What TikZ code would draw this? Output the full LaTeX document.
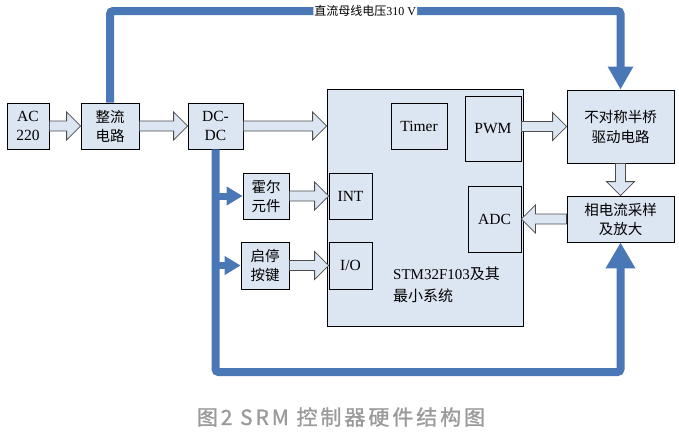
\documentclass[tikz,border=0pt]{standalone}
\usepackage{fontspec}
\setmainfont{Liberation Serif}
\newfontfamily\cjk{Noto Sans CJK SC}
\newfontfamily\capfont[LetterSpace=14,FakeBold=1.2]{Noto Sans CJK SC}
\usetikzlibrary{positioning,calc,arrows.meta}

\definecolor{boxfill}{HTML}{DCE6F2}
\definecolor{busblue}{HTML}{4A77B5}
\definecolor{captiongray}{HTML}{9A9A9A}

% hollow block arrow from #1 to #2
\newcommand{\hollowarrow}[2]{%
	\path (#1) coordinate (ha) (#2) coordinate (hb);
	\path ($(hb)!14pt!(ha)$) coordinate (hh);
	\draw [hollow] ($(ha)!5pt!90:(hb)$) -- ($(hh)!5pt!90:(hb)$) -- ($(hh)!14pt!90:(hb)$) -- (hb)
		-- ($(hh)!14pt!-90:(hb)$) -- ($(hh)!5pt!-90:(hb)$) -- ($(ha)!5pt!-90:(hb)$) -- cycle;%
}

\begin{document}
\begin{tikzpicture}[
			x=1pt, y=-1pt,
			font=\fontsize{15.5}{19}\selectfont,
			box/.style={rectangle, draw=black, fill=boxfill, thick, inner sep=0pt, align=center},
			cjkbox/.style={box, font=\fontsize{14.5}{19}\selectfont\cjk},
			hollow/.style={draw=black!70, fill=boxfill, line width=0.8pt},
			busline/.style={draw=busblue, line width=8pt, rounded corners=3pt},
			tapline/.style={draw=busblue, line width=7pt, -{Triangle[length=16pt,width=18pt]}}
	]
		\useasboundingbox (0,0) rectangle (679,434);

		\node (ac) [box, minimum width=42, minimum height=46] at (28,126) {AC\\220};
		\node (zl) [cjkbox, minimum width=58, minimum height=46] at (110,126) {整流\\电路};
		\node (dc) [box, minimum width=55, minimum height=46] at (215.5,126) {DC-\\DC};

		\node (mcu) [box, minimum width=196, minimum height=237] at (425,207.5) {};
		\node (timer) [box, minimum width=56, minimum height=46] at (419,126) {Timer};
		\node (pwm) [box, minimum width=56, minimum height=65] at (493,128.5) {PWM};
		\node (adc) [box, minimum width=53, minimum height=66] at (494.5,219) {ADC};
		\node (int) [box, minimum width=43, minimum height=46] at (350.5,196) {INT};
		\node (io) [box, minimum width=43, minimum height=47] at (350.5,265.5) {I/O};
		\node (mcutext) [anchor=north west, align=left, inner sep=0pt, font=\fontsize{15}{22}\selectfont] at (393,267) {STM32F103{\cjk 及其}\\{\cjk 最小系统}};

		\node (hall) [cjkbox, minimum width=46, minimum height=46] at (266,196) {霍尔\\元件};
		\node (key) [cjkbox, minimum width=48, minimum height=47] at (265,265.5) {启停\\按键};

		\node (drv) [cjkbox, minimum width=107, minimum height=73, font=\fontsize{14.5}{20}\selectfont\cjk] at (620.5,126.5) {不对称半桥\\驱动电路};
		\node (amp) [cjkbox, minimum width=107, minimum height=46] at (620.5,219) {相电流采样\\及放大};

		\node (caption) [text=captiongray, font=\fontsize{21}{24}\selectfont\capfont] at (341,417) {图2 SRM 控制器硬件结构图};

		% block arrows
		\hollowarrow{ac.east}{zl.west}
		\hollowarrow{zl.east}{dc.west}
		\hollowarrow{dc.east}{mcu.west |- dc.east}
		\hollowarrow{hall.east}{int.west}
		\hollowarrow{key.east}{io.west}
		\hollowarrow{pwm.east |- drv.west}{drv.west}
		\hollowarrow{drv.south}{amp.north}
		\hollowarrow{amp.west}{adc.east |- amp.west}

		% dc bus and low voltage supply
		\coordinate (bustop) at (0,11);
		\coordinate (busbot) at (0,372);
		\draw [busline, -{Triangle[length=23pt,width=24pt]}] (zl.north) -- (zl.north |- bustop)
			-- node[fill=white, inner sep=1pt, font=\fontsize{12}{14}\selectfont] {{\cjk 直流母线电压}310 V} (drv.north |- bustop) -- (drv.north);
		\draw [busline, -{Triangle[length=26pt,width=28pt]}] (dc.south) -- (dc.south |- busbot)
			-- (amp.south |- busbot) -- (amp.south);
		\draw [tapline] (dc.south |- hall.west) -- (hall.west);
		\draw [tapline] (dc.south |- key.west) -- (key.west);
	\end{tikzpicture}
\end{document}
